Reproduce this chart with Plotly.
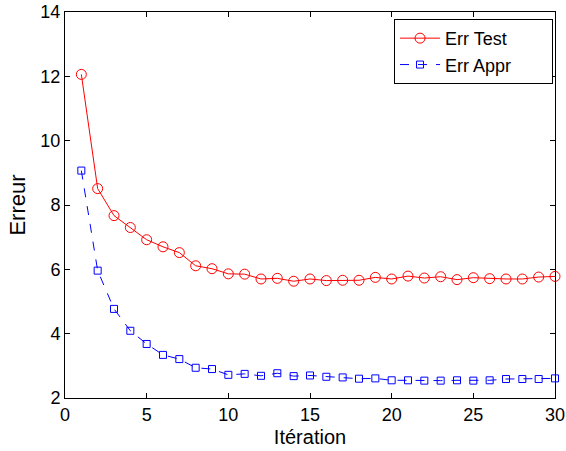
import plotly.graph_objects as go

iterations = list(range(1, 31))
err_test = [12.06, 8.51, 7.67, 7.30, 6.92, 6.70, 6.52, 6.11, 6.02, 5.86,
            5.85, 5.70, 5.72, 5.63, 5.70, 5.65, 5.66, 5.66, 5.75, 5.70,
            5.79, 5.73, 5.77, 5.68, 5.74, 5.71, 5.70, 5.70, 5.76, 5.78]
err_appr = [9.07, 5.96, 4.77, 4.09, 3.68, 3.34, 3.21, 2.94, 2.90, 2.72,
            2.75, 2.69, 2.77, 2.68, 2.70, 2.66, 2.64, 2.60, 2.61, 2.55,
            2.55, 2.54, 2.54, 2.55, 2.54, 2.55, 2.59, 2.59, 2.59, 2.61]
series_names = ["Err Test", "Err Appr"]

# trailing no-break spaces widen the legend box like the matlab one
pad = "\u00a0" * 7

fig = go.Figure()
fig.add_trace(go.Scatter(
    x=iterations, y=err_test, name=series_names[0] + pad, mode="lines+markers",
    line=dict(color="red", width=1),
    marker=dict(symbol="circle-open", size=10, color="red", line=dict(width=1)),
    cliponaxis=False,
))
fig.add_trace(go.Scatter(
    x=iterations, y=err_appr, name=series_names[1] + pad, mode="lines+markers",
    line=dict(color="blue", width=1, dash="dash"),
    marker=dict(symbol="square-open", size=7, color="blue", line=dict(width=1)),
    cliponaxis=False,
))

axis_style = dict(
    showgrid=False, zeroline=False, showline=True, linecolor="black", linewidth=1,
    mirror="ticks", ticks="inside", ticklen=5, tickcolor="black",
    tickfont=dict(size=18, color="black"), automargin=False,
)
fig.update_xaxes(range=[0, 30], dtick=5, title=dict(text="Itération", font=dict(size=20), standoff=6), **axis_style)
fig.update_yaxes(range=[2, 14], dtick=2, title=dict(text="Erreur", font=dict(size=22), standoff=8), **axis_style)

fig.update_layout(
    width=566, height=451,
    margin=dict(l=65, r=11, t=12, b=53),
    plot_bgcolor="white", paper_bgcolor="white",
    font=dict(family="Liberation Sans, Arial, sans-serif", color="black"),
    legend=dict(x=0.996, y=0.982, xanchor="right", yanchor="top",
                bordercolor="black", borderwidth=1, bgcolor="white",
                font=dict(size=18), tracegroupgap=0, itemwidth=40),
)

# page body has an 8px default margin; drop it so the figure sits at 0,0
fig.write_html("out.html", config={"displayModeBar": False},
               post_script="document.body.style.margin='0';")
